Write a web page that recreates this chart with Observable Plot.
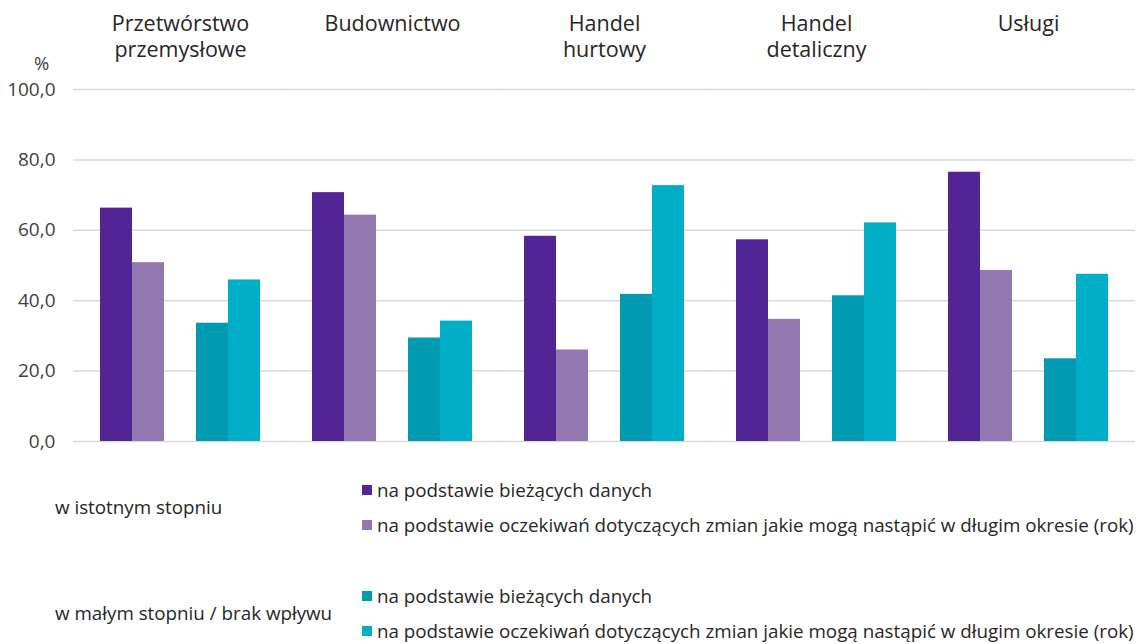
<!DOCTYPE html>
<html><head><meta charset="utf-8">
<script src="https://cdn.jsdelivr.net/npm/d3@7"></script>
<script src="https://cdn.jsdelivr.net/npm/@observablehq/plot@0.6"></script>
<style>
body{margin:0;background:#fff;font-family:'Open Sans',sans-serif;color:#262626;}
#wrap{position:relative;width:1147px;height:644px;overflow:hidden;}
#pct{position:absolute;left:34px;top:50px;font-size:18.5px;line-height:26px;color:#404040;}
.grp{position:absolute;left:55px;display:flex;align-items:center;font-size:18.8px;color:#262626;}
.glabel{width:307px;}
.item{height:35px;display:flex;align-items:center;white-space:nowrap;}
.sw{display:inline-block;width:10px;height:10px;margin-right:5px;}
</style></head><body>
<div id="wrap"><div id="chart"></div><div id="pct">%</div><div id="legend"></div></div>
<script>
const sectors = ["Przetwórstwo przemysłowe", "Budownictwo", "Handel hurtowy", "Handel detaliczny", "Usługi"];
const sectorLabels = ["Przetwórstwo\nprzemysłowe", "Budownictwo", "Handel\nhurtowy", "Handel\ndetaliczny", "Usługi"];
const seriesKeys = ["s1", "s2", "m1", "m2"];
const seriesNames = [
  "na podstawie bieżących danych",
  "na podstawie oczekiwań dotyczących zmian jakie mogą nastąpić w długim okresie (rok)",
  "na podstawie bieżących danych",
  "na podstawie oczekiwań dotyczących zmian jakie mogą nastąpić w długim okresie (rok)"
];
const groupNames = ["w istotnym stopniu", "w małym stopniu / brak wpływu"];
const colors = ["#532494", "#9478b2", "#009ab2", "#00afc7"];
const significantCurrent = [66.3, 70.7, 58.3, 57.3, 76.5];
const significantExpected = [50.8, 64.3, 26.0, 34.7, 48.6];
const minorCurrent = [33.6, 29.4, 41.8, 41.4, 23.5];
const minorExpected = [45.9, 34.2, 72.7, 62.1, 47.5];
const yTicks = [0, 20, 40, 60, 80, 100];

const seriesValues = [significantCurrent, significantExpected, minorCurrent, minorExpected];
const data = sectors.flatMap((s, i) => seriesKeys.map((k, j) => ({sector: s, series: k, value: seriesValues[j][i]})));

const chart = Plot.plot({
  width: 1147, height: 460,
  marginTop: 89, marginBottom: 19, marginLeft: 72, marginRight: 11,
  style: {fontFamily: "'Open Sans', sans-serif", fontSize: "18px", color: "#262626", background: "#fff"},
  fx: {domain: sectors, paddingInner: 0.235, paddingOuter: 0.12, axis: null, label: null},
  x: {domain: ["s1", "s2", "gap", "m1", "m2"], padding: 0, axis: null},
  y: {domain: [0, 100], axis: null},
  color: {domain: seriesKeys, range: colors},
  marks: [
    Plot.ruleY(yTicks, {stroke: "#d9d9d9", strokeWidth: 1.5, insetLeft: -26, insetRight: -26}),
    Plot.barY(data, {fx: "sector", x: "series", y: "value", fill: "series"}),
    Plot.axisY(yTicks, {anchor: "left", tickSize: 0, tickPadding: 44, label: null,
      tickFormat: d => d.toFixed(1).replace(".", ","), fill: "#404040", fontSize: 19}),
    Plot.text(sectors, {fx: d => d, text: (d, i) => sectorLabels[i], frameAnchor: "top",
      lineAnchor: "top", dy: -78, fontSize: 21.5, lineHeight: 1.25, fill: "#262626"})
  ]
});
document.getElementById("chart").appendChild(chart);

const legend = document.getElementById("legend");
const tops = [472, 578];
groupNames.forEach((g, gi) => {
  const grp = document.createElement("div");
  grp.className = "grp";
  grp.style.top = tops[gi] + "px";
  const lab = document.createElement("div");
  lab.className = "glabel";
  lab.textContent = g;
  grp.appendChild(lab);
  const items = document.createElement("div");
  [0, 1].forEach(k => {
    const j = gi * 2 + k;
    const it = document.createElement("div");
    it.className = "item";
    const sw = document.createElement("span");
    sw.className = "sw";
    sw.style.background = colors[j];
    it.appendChild(sw);
    it.appendChild(document.createTextNode(seriesNames[j]));
    items.appendChild(it);
  });
  grp.appendChild(items);
  legend.appendChild(grp);
});
</script>
</body></html>
